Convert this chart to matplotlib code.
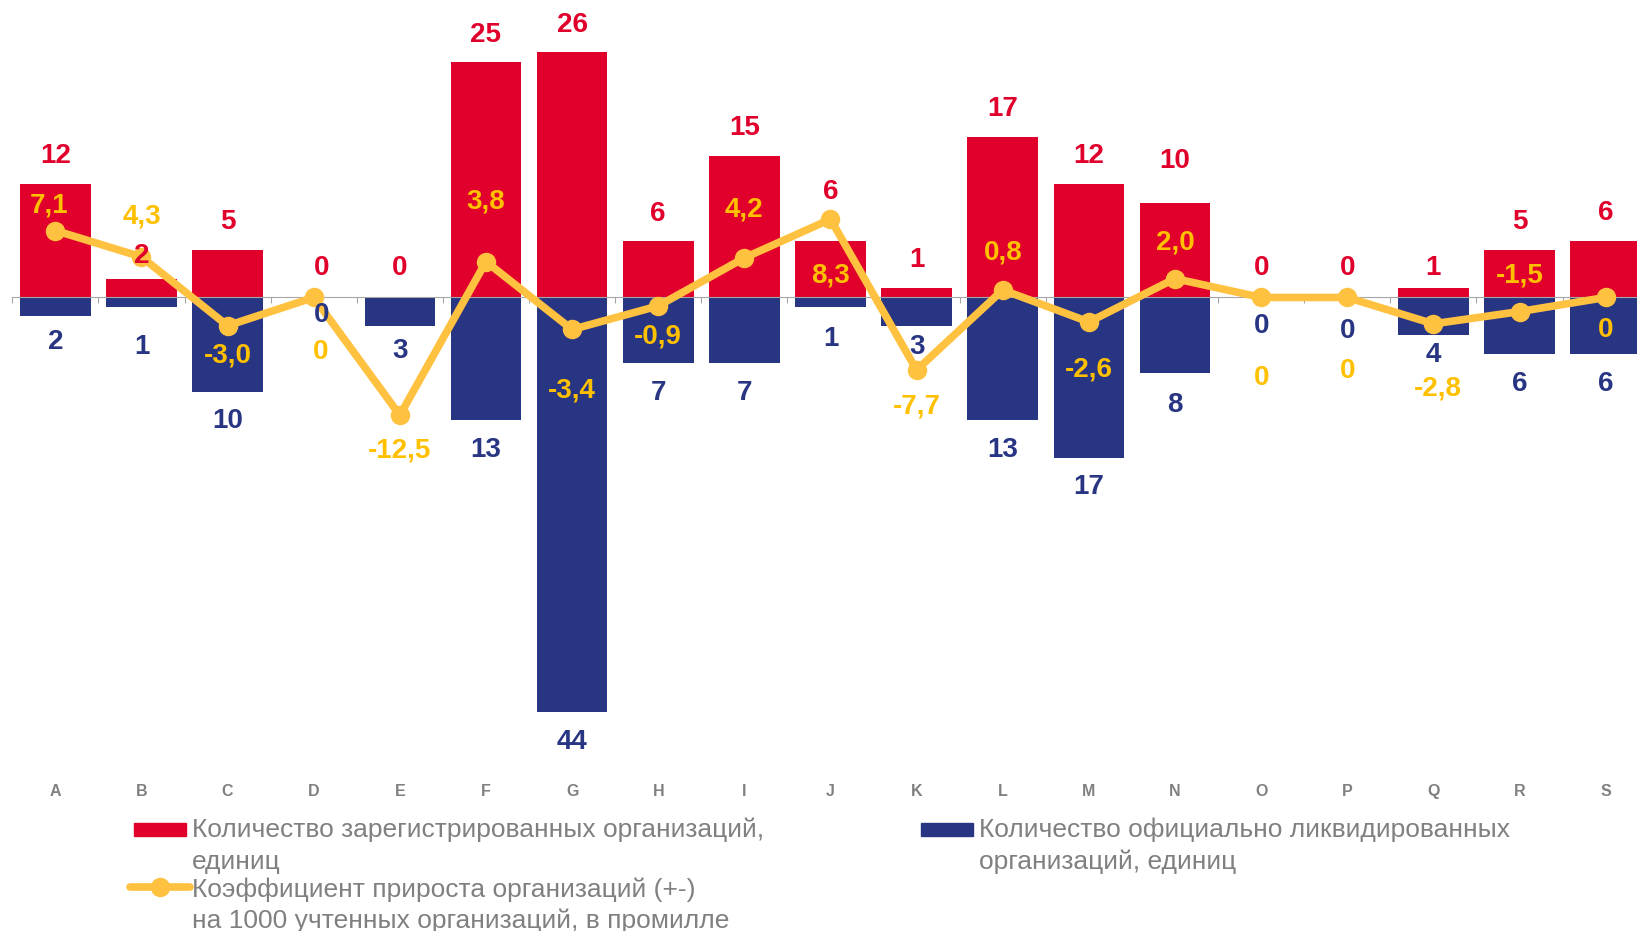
import matplotlib
matplotlib.use("Agg")
import matplotlib.pyplot as plt
import matplotlib.patches as mpatches
from matplotlib.lines import Line2D

# ─────────────────────────────────────────────────────────────
# Data
# ─────────────────────────────────────────────────────────────
CATEGORIES = list("ABCDEFGHIJKLMNOPQRS")
REGISTERED = [12, 2, 5, 0, 0, 25, 26, 6, 15, 6, 1, 17, 12, 10, 0, 0, 1, 5, 6]
LIQUIDATED = [2, 1, 10, 0, 3, 13, 44, 7, 7, 1, 3, 13, 17, 8, 0, 0, 4, 6, 6]
GROWTH = [7.1, 4.3, -3.0, 0, -12.5, 3.8, -3.4, -0.9, 4.2, 8.3,
          -7.7, 0.8, -2.6, 2.0, 0, 0, -2.8, -1.5, 0]

LBL_REG = "Количество зарегистрированных организаций,\nединиц"
LBL_LIQ = "Количество официально ликвидированных\nорганизаций, единиц"
LBL_GROWTH = "Коэффициент прироста организаций (+-)\nна 1000 учтенных организаций, в промилле"

# ─────────────────────────────────────────────────────────────
# Colours / layout
# ─────────────────────────────────────────────────────────────
RED = "#E0002B"
BLUE = "#283583"
YEL_LINE = "#FFC240"
YEL_TEXT = "#FFC000"
GREY = "#808080"

# label nudges, in reference pixels (+ = down)
RED_DY = [-27, -22, -27, -28, -28, -26, -26, -26, -27, -47,
          -27, -27, -27, -40, -28, -28, -19, -27, -27]
BLUE_DY = [25, 38, 28, 17, 24, 29, 29, 28, 28, 31,
           20, 29, 28, 31, 27, 32, 19, 29, 29]
YEL_DY = [-24, -39, 29, 52, 34, -58, 58, 29, -46, 54,
          35, -36, 46, -35, 77, 70, 62, -35, 31]
DX = [0, 0, 0, 8, 0, 0, 0, 0, 0, 0, 0, 0, 0, 0, 0, 0, 0, 0, 0]
YEL_DX = [-6, 0, 0, 7, 0, 0, 0, 0, 0, 0, 0, 0, 0, 0, 0, 0, 4, 0, 0]
PX2PT = (1637 / 1568) * 72 / 100

W, H = 1637, 931
plt.rcParams["font.family"] = ["Liberation Sans", "DejaVu Sans"]


def fmt(v):
    return "0" if v == 0 else f"{v:.1f}".replace(".", ",")


def fx(px):
    return px / W


def fy(py):
    return 1 - py / H


fig = plt.figure(figsize=(W / 100, H / 100), dpi=100)
ax = fig.add_axes([0.0075, 0.1136, 0.99966, 0.8858])
x = list(range(len(CATEGORIES)))

ax.bar(x, REGISTERED, width=0.82, color=RED, zorder=2)
ax.bar(x, [-v for v in LIQUIDATED], width=0.82, color=BLUE, zorder=2)
ax.plot(x, GROWTH, color=YEL_LINE, lw=5.5, marker="o", ms=13, zorder=4,
        solid_capstyle="round")

ax.set_xlim(-0.5, len(CATEGORIES) - 0.5)
ax.set_ylim(-56, 31.5)

# zero axis with boundary ticks
for s in ["top", "right", "left"]:
    ax.spines[s].set_visible(False)
ax.spines["bottom"].set_position(("data", 0))
ax.spines["bottom"].set_color("#A6A6A6")
ax.spines["bottom"].set_zorder(3)
ax.set_yticks([])
ax.set_xticks([i - 0.5 for i in range(len(CATEGORIES) + 1)])
ax.set_xticklabels([])
ax.tick_params(axis="x", direction="out", length=4, color="#A6A6A6")

for i, c in enumerate(CATEGORIES):
    ax.text(i, 0.0415, c, transform=ax.get_xaxis_transform(), ha="center",
            va="center", fontsize=11.5, fontweight="bold", color=GREY)

# value labels
for i in x:
    ax.annotate(str(REGISTERED[i]), (i, REGISTERED[i]),
                xytext=(DX[i] * PX2PT, -RED_DY[i] * PX2PT), textcoords="offset points",
                ha="center", va="center", fontsize=20, fontweight="bold",
                color=RED, zorder=6)
    ax.annotate(str(LIQUIDATED[i]), (i, -LIQUIDATED[i]),
                xytext=(DX[i] * PX2PT, -BLUE_DY[i] * PX2PT), textcoords="offset points",
                ha="center", va="center", fontsize=20, fontweight="bold",
                color=BLUE, zorder=6)
    ax.annotate(fmt(GROWTH[i]), (i, GROWTH[i]),
                xytext=(YEL_DX[i] * PX2PT, -YEL_DY[i] * PX2PT), textcoords="offset points",
                ha="center", va="center", fontsize=20, fontweight="bold",
                color=YEL_TEXT, zorder=6)

# legend, drawn by hand so the keys sit on the first text line
legtxt = dict(fontsize=19, color=GREY, va="top", ha="left", linespacing=1.37)
fig.add_artist(mpatches.Rectangle((fx(134), fy(836)), fx(52), 13 / H,
                                  color=RED, transform=fig.transFigure))
fig.text(fx(192), fy(818), LBL_REG, **legtxt)

fig.add_artist(Line2D([fx(130), fx(190)], [fy(887), fy(887)], color=YEL_LINE,
                      lw=5.5, solid_capstyle="round", transform=fig.transFigure))
fig.add_artist(Line2D([fx(160)], [fy(887)], color=YEL_LINE, marker="o", ms=13,
                      transform=fig.transFigure))
fig.text(fx(192), fy(877), LBL_GROWTH, **legtxt)

fig.add_artist(mpatches.Rectangle((fx(921), fy(836)), fx(52), 13 / H,
                                  color=BLUE, transform=fig.transFigure))
fig.text(fx(979), fy(818), LBL_LIQ, **legtxt)

fig.savefig("out.png", dpi=100)
